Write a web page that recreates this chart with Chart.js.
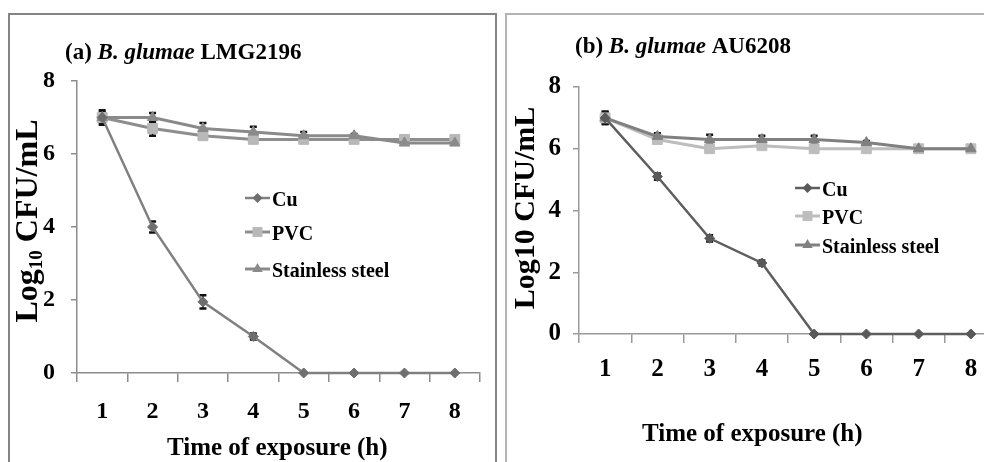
<!DOCTYPE html>
<html>
<head>
<meta charset="utf-8">
<script src="https://cdn.jsdelivr.net/npm/chart.js@4.4.1/dist/chart.umd.min.js"></script>
<style>
  html, body { margin: 0; padding: 0; background: #fff; width: 984px; height: 462px; overflow: hidden; position: relative; }
  .frame { position: absolute; box-sizing: border-box; }
  #frameA { left: 8px; top: 13px; width: 489px; height: 520px; border: 2px solid #858585; }
  #frameB { left: 505px; top: 13px; width: 600px; height: 520px; border: 2px solid #b4b4b4; }
  canvas { position: absolute; top: 0; }
  #chartA { left: 0; }
  #chartB { left: 505px; }
</style>
</head>
<body>
<div class="frame" id="frameA"></div>
<div class="frame" id="frameB"></div>
<canvas id="chartA" width="497" height="462"></canvas>
<canvas id="chartB" width="505" height="462"></canvas>
<script>
// time points (h) and y ticks
const hours = ['1', '2', '3', '4', '5', '6', '7', '8'];
const yTicks = [0, 2, 4, 6, 8];
const seriesNames = ['Cu', 'PVC', 'Stainless steel'];

// (a) B. glumae LMG2196
const cuA = [7.0, 4.0, 1.95, 1.0, 0, 0, 0, 0];
const pvcA = [7.0, 6.7, 6.5, 6.4, 6.4, 6.4, 6.4, 6.4];
const steelA = [7.0, 7.0, 6.7, 6.6, 6.5, 6.5, 6.3, 6.3];
const cuErrA = [0.2, 0.15, 0.18, 0.08, 0, 0, 0, 0];
const pvcErrA = [0.1, 0.2, 0.05, 0.05, 0.05, 0, 0, 0];
const steelErrA = [0.15, 0.12, 0.15, 0.15, 0.1, 0.05, 0, 0];

// (b) B. glumae AU6208
const cuB = [7.0, 5.1, 3.1, 2.3, 0, 0, 0, 0];
const pvcB = [7.0, 6.3, 6.0, 6.1, 6.0, 6.0, 6.0, 6.0];
const steelB = [7.0, 6.4, 6.3, 6.3, 6.3, 6.2, 6.0, 6.0];
const cuErrB = [0.2, 0.1, 0.1, 0.08, 0, 0, 0, 0];
const pvcErrB = [0.1, 0.05, 0.05, 0.05, 0.05, 0.05, 0, 0];
const steelErrB = [0.2, 0.1, 0.15, 0.12, 0.12, 0.05, 0, 0];

const FAM = '"Liberation Serif", "Times New Roman", serif';
const f = (size, style) => (style || 'bold') + ' ' + size + 'px ' + FAM;

function drawMarker(ctx, style, x, y, r) {
    ctx.beginPath();
    if (style === 'rect') {
        const s = r * Math.SQRT1_2;
        ctx.rect(x - s, y - s, 2 * s, 2 * s);
    } else if (style === 'triangle') {
        ctx.moveTo(x, y - r);
        ctx.lineTo(x + r * 0.866, y + r * 0.5);
        ctx.lineTo(x - r * 0.866, y + r * 0.5);
        ctx.closePath();
    } else {
        ctx.moveTo(x, y - r);
        ctx.lineTo(x + r, y);
        ctx.lineTo(x, y + r);
        ctx.lineTo(x - r, y);
        ctx.closePath();
    }
    ctx.fill();
}

// error bars, drawn under the lines like in excel
const errorBars = {
    id: 'errorBars',
    beforeDatasetsDraw(chart) {
        const { ctx } = chart;
        const ys = chart.scales.y;
        chart.data.datasets.forEach((ds, i) => {
            const meta = chart.getDatasetMeta(i);
            ds.errors.forEach((e, j) => {
                if (!e) return;
                const x = meta.data[j].x;
                const top = ys.getPixelForValue(ds.data[j] + e);
                const bot = ys.getPixelForValue(ds.data[j] - e);
                ctx.save();
                ctx.strokeStyle = '#111';
                ctx.lineWidth = 1.5;
                ctx.beginPath();
                ctx.moveTo(x, top); ctx.lineTo(x, bot);
                ctx.stroke();
                ctx.lineWidth = 2.5;
                ctx.beginPath();
                ctx.moveTo(x - 3.5, top); ctx.lineTo(x + 3.5, top);
                ctx.moveTo(x - 3.5, bot); ctx.lineTo(x + 3.5, bot);
                ctx.stroke();
                ctx.restore();
            });
        });
    }
};

// legend + titles drawn by hand
function decorations(cfg) {
    return {
        id: 'decor',
        afterDraw(chart) {
            const { ctx } = chart;
            ctx.save();
            ctx.fillStyle = '#000';
            ctx.textBaseline = 'alphabetic';

            // legend, in series order
            cfg.legendY.forEach((ly, k) => {
                const ds = chart.data.datasets.find(d => d.label === seriesNames[k]);
                ctx.strokeStyle = ds.borderColor;
                ctx.lineWidth = ds.borderWidth;
                ctx.beginPath();
                ctx.moveTo(cfg.legendX, ly);
                ctx.lineTo(cfg.legendX + 25, ly);
                ctx.stroke();
                ctx.fillStyle = ds.pointBackgroundColor;
                drawMarker(ctx, ds.pointStyle, cfg.legendX + 12.5, ly, ds.pointRadius);
                ctx.fillStyle = '#000';
                ctx.font = f(cfg.legendSize);
                ctx.textAlign = 'left';
                ctx.fillText(ds.label, cfg.legendX + 27, ly + 8);
            });

            // panel title with italic species name
            let x = cfg.title.x;
            ctx.textAlign = 'left';
            cfg.title.parts.forEach(p => {
                ctx.font = f(cfg.title.size, p[1]);
                ctx.fillText(p[0], x, cfg.title.y);
                x += ctx.measureText(p[0]).width;
            });

            // x axis title
            ctx.font = f(cfg.xTitle.size);
            ctx.fillText('Time of exposure (h)', cfg.xTitle.x, cfg.xTitle.y);

            // y axis title, rotated
            ctx.translate(cfg.yTitle.x, cfg.yTitle.y);
            ctx.rotate(-Math.PI / 2);
            let total = 0;
            cfg.yTitle.parts.forEach(p => { ctx.font = f(p[1]); total += ctx.measureText(p[0]).width; });
            let tx = -total / 2;
            cfg.yTitle.parts.forEach(p => {
                ctx.font = f(p[1]);
                ctx.fillText(p[0], tx, p[2]);
                tx += ctx.measureText(p[0]).width;
            });
            ctx.restore();
        }
    };
}

function makeChart(id, d, look) {
    const datasets = [
        { label: seriesNames[0], data: d.cu, errors: d.cuErr, order: 0,
          borderColor: look.cu[0], pointBackgroundColor: look.cu[1], pointBorderColor: look.cu[1],
          borderWidth: 2.5, pointStyle: 'rectRot', pointRadius: 5 },
        { label: seriesNames[1], data: d.pvc, errors: d.pvcErr, order: 2,
          borderColor: look.pvc[0], pointBackgroundColor: look.pvc[1], pointBorderColor: look.pvc[1],
          borderWidth: 3, pointStyle: 'rect', pointRadius: 7 },
        { label: seriesNames[2], data: d.steel, errors: d.steelErr, order: 1,
          borderColor: look.steel[0], pointBackgroundColor: look.steel[1], pointBorderColor: look.steel[1],
          borderWidth: 3, pointStyle: 'triangle', pointRadius: 6 }
    ];
    datasets.forEach(ds => { ds.tension = 0; ds.clip = false; ds.pointBorderWidth = 1; });

    return new Chart(document.getElementById(id), {
        type: 'line',
        data: { labels: hours, datasets: datasets },
        options: {
            responsive: false,
            animation: false,
            events: [],
            layout: { padding: look.padding },
            plugins: { legend: { display: false }, tooltip: { enabled: false } },
            scales: {
                x: {
                    offset: true,
                    ticks: { padding: look.xPad, color: '#000', font: { family: FAM, size: look.tickSize, weight: 'bold' } },
                    grid: { offset: true, drawOnChartArea: false, tickLength: 9, color: look.axis, lineWidth: 1.5 },
                    border: { color: look.axis, width: 1.5 },
                    afterFit: s => { s.height = look.xHeight; }
                },
                y: {
                    min: yTicks[0],
                    max: yTicks[yTicks.length - 1],
                    ticks: { stepSize: yTicks[1] - yTicks[0], padding: look.yPad, color: '#000',
                             font: { family: FAM, size: look.tickSize, weight: 'bold' } },
                    grid: { drawOnChartArea: false, tickLength: 6, color: look.axis, lineWidth: 1.5 },
                    border: { color: look.axis, width: 1.5 },
                    afterFit: s => { s.width = look.yWidth; }
                }
            }
        },
        plugins: [errorBars, decorations(look.decor)]
    });
}

makeChart('chartA',
    { cu: cuA, pvc: pvcA, steel: steelA, cuErr: cuErrA, pvcErr: pvcErrA, steelErr: steelErrA },
    {
        cu: ['#808080', '#6e6e6e'], pvc: ['#8e8e8e', '#b8b8b8'], steel: ['#8a8a8a', '#8a8a8a'],
        axis: '#8c8c8c', padding: { left: 0, right: 17, top: 81, bottom: 0 },
        xHeight: 89, yWidth: 77, xPad: 15, yPad: 16, tickSize: 24,
        decor: {
            legendX: 245, legendY: [198, 232, 269], legendSize: 20,
            title: { x: 65, y: 59, size: 23, parts: [['(a) ', 'bold'], ['B. glumae', 'italic bold'], [' LMG2196', 'bold']] },
            xTitle: { x: 167, y: 455, size: 25 },
            yTitle: { x: 37, y: 221, parts: [['Log', 32, 0], ['10', 19, 5], [' CFU/mL', 32, 0]] }
        }
    });

makeChart('chartB',
    { cu: cuB, pvc: pvcB, steel: steelB, cuErr: cuErrB, pvcErr: pvcErrB, steelErr: steelErrB },
    {
        cu: ['#5e5e5e', '#595959'], pvc: ['#bdbdbd', '#bdbdbd'], steel: ['#808080', '#808080'],
        axis: '#9a9a9a', padding: { left: 0, right: 13, top: 87, bottom: 0 },
        xHeight: 128, yWidth: 74, xPad: 12, yPad: 12, tickSize: 25,
        decor: {
            legendX: 290, legendY: [188, 216, 245], legendSize: 20,
            title: { x: 70, y: 53, size: 23, parts: [['(b) ', 'bold'], ['B. glumae', 'italic bold'], [' AU6208', 'bold']] },
            xTitle: { x: 137, y: 441, size: 25 },
            yTitle: { x: 29, y: 208, parts: [['Log10 CFU/mL', 30, 0]] }
        }
    });
</script>
</body>
</html>
